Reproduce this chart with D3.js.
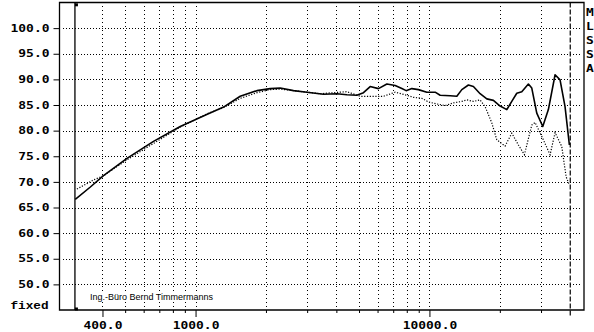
<!DOCTYPE html>
<html>
  <head>
    <meta charset="utf-8">
    <script src="https://d3js.org/d3.v7.min.js"></script>
    <style>
      body { margin: 0; background: #fff; }
      svg { display: block; }
      .domain { display: none; }
      .tick line { stroke: #000; stroke-width: 1; }
      .tick text, .side {
        font-family: 'DejaVu Sans Mono', monospace;
        font-weight: bold;
        font-size: 10px;
        fill: #000;
      }
    </style>
  </head>
  <body>
    <svg id="chart" width="594" height="332"></svg>
    <script>
      // measured response (solid) and reference response (dotted), Hz / dB
      const solidFreq = [306, 355, 404, 509, 661, 860, 1122, 1318, 1552, 1830, 2085, 2301, 2623, 2993, 3524, 4021, 4436, 4894, 5224, 5580, 6053, 6577, 7135, 7621, 7951, 8411, 8974, 9748, 10578, 11110, 12260, 13097, 13756, 14678, 15418, 16468, 17592, 18770, 20054, 21420, 22496, 23630, 24820, 26490, 27390, 28770, 30520, 32250, 34450, 36180, 38000, 39660];
      const solidLevel = [66.6, 69.0, 71.2, 74.6, 77.9, 80.8, 83.2, 84.6, 86.7, 87.8, 88.2, 88.3, 87.8, 87.5, 87.1, 87.2, 87.0, 86.9, 87.4, 88.6, 88.2, 89.1, 88.8, 88.2, 87.8, 88.2, 88.0, 87.5, 87.5, 86.9, 86.8, 86.7, 88.0, 88.9, 88.6, 87.2, 86.2, 85.9, 84.8, 84.1, 85.7, 87.3, 87.6, 89.1, 88.3, 83.4, 80.8, 84.1, 90.9, 89.9, 84.7, 77.2];
      const dottedFreq = [311, 367, 404, 509, 661, 860, 1122, 1318, 1552, 1830, 2085, 2301, 2623, 2993, 3411, 3878, 4436, 5055, 5580, 6360, 7135, 8006, 8544, 9280, 9901, 10755, 11674, 12662, 13756, 14447, 15418, 16468, 17298, 18480, 19410, 21060, 22496, 24010, 25470, 27390, 28290, 30700, 32800, 34450, 36800, 38400, 39660];
      const dottedLevel = [68.6, 70.4, 71.2, 74.3, 77.5, 80.7, 83.3, 84.5, 86.3, 87.4, 88.0, 88.1, 87.8, 87.5, 87.2, 87.4, 87.6, 86.7, 86.7, 86.7, 87.5, 86.9, 86.5, 86.3, 85.6, 85.2, 84.9, 85.4, 85.7, 86.0, 85.7, 86.0, 84.7, 81.5, 78.2, 77.0, 79.5, 77.2, 75.3, 81.1, 81.6, 78.2, 75.3, 79.6, 76.9, 71.0, 69.4];

      const yTicks = [50, 55, 60, 65, 70, 75, 80, 85, 90, 95, 100];
      const xMajorTicks = [400, 1000, 10000];
      const xMinorTicks = [500, 600, 700, 800, 900, 2000, 3000, 4000, 5000, 6000, 7000, 8000, 9000, 20000, 30000];
      const gridFreqs = [400, 500, 600, 700, 800, 900, 1000, 2000, 3000, 4000, 5000, 6000, 7000, 8000, 9000, 10000, 20000, 30000];
      const lowMarker = 305;
      const highMarker = 40000;
      const bottomLabel = 'fixed';
      const sideLabels = ['M', 'L', 'S', 'S', 'A'];
      const credit = 'Ing.-Büro Bernd Timmermanns';

      (() => {
        const svg = d3.select('#chart');
        const left = 59.5, right = 584, plotTop = 2.5, bottom = 310;

        const x = d3.scaleLog().domain([262, 45800]).range([left, right]);
        const y = d3.scaleLinear().domain([45, 105]).range([bottom, plotTop]);

        // dotted grid
        svg.append('g').selectAll('line').data(yTicks).enter().append('line')
          .attr('x1', 63).attr('x2', 581)
          .attr('y1', d => Math.round(y(d)) + 0.5).attr('y2', d => Math.round(y(d)) + 0.5)
          .attr('stroke', '#000').attr('stroke-dasharray', '1,2');
        svg.append('g').selectAll('line').data(gridFreqs).enter().append('line')
          .attr('x1', d => Math.round(x(d)) + 0.5).attr('x2', d => Math.round(x(d)) + 0.5)
          .attr('y1', 6).attr('y2', 308)
          .attr('stroke', '#000').attr('stroke-dasharray', '1,3');

        // axes
        const yAxis = d3.axisLeft(y).tickValues(yTicks).tickSize(6).tickPadding(4).tickFormat(d3.format('.1f'));
        svg.append('g').attr('transform', `translate(${left},0)`).call(yAxis)
          .selectAll('text').attr('textLength', function() { return this.textContent.length * 7.8; })
          .attr('lengthAdjust', 'spacingAndGlyphs');

        const xMajor = d3.axisBottom(x).tickValues(xMajorTicks).tickSize(7).tickPadding(5).tickFormat(d3.format('.1f'));
        svg.append('g').attr('transform', `translate(0,${bottom})`).call(xMajor)
          .selectAll('text').attr('textLength', function() { return this.textContent.length * 7.8; })
          .attr('lengthAdjust', 'spacingAndGlyphs');
        const xMinor = d3.axisBottom(x).tickValues(xMinorTicks).tickSize(3).tickFormat('');
        svg.append('g').attr('transform', `translate(0,${bottom})`).call(xMinor);

        svg.append('text')
          .attr('x', 48.5).attr('y', 309)
          .attr('text-anchor', 'end')
          .attr('textLength', 38).attr('lengthAdjust', 'spacingAndGlyphs')
          .style('font-family', "'Liberation Mono', monospace")
          .style('font-weight', 'bold').style('font-size', '11px')
          .text(bottomLabel);

        // credit line sits on a white box over the grid
        svg.append('rect').attr('x', 88).attr('y', 291).attr('width', 122).attr('height', 11).attr('fill', '#fff');
        svg.append('text')
          .attr('x', 90).attr('y', 299.5)
          .style('font-family', "'Liberation Sans', Arial, sans-serif")
          .style('font-size', '9px')
          .text(credit);

        // frame
        svg.append('path')
          .attr('d', `M${left},${plotTop}H${right}V${bottom}H${left}Z`)
          .attr('fill', 'none').attr('stroke', '#000').attr('stroke-width', 1.3);

        // range markers
        const xl = x(lowMarker);
        svg.append('line').attr('x1', xl).attr('x2', xl).attr('y1', plotTop).attr('y2', bottom)
          .attr('stroke', '#000').attr('stroke-width', 1.3);
        svg.append('rect').attr('x', xl).attr('y', 3.3).attr('width', 3).attr('height', 3).attr('fill', '#000');
        svg.append('rect').attr('x', xl).attr('y', 307.5).attr('width', 3).attr('height', 3).attr('fill', '#000');
        const xh = x(highMarker);
        svg.append('line').attr('x1', xh).attr('x2', xh).attr('y1', plotTop).attr('y2', 316)
          .attr('stroke', '#000').attr('stroke-width', 1.2).attr('stroke-dasharray', '5,2');

        // curves
        const line = d3.line().x(d => x(d[0])).y(d => y(d[1]));
        svg.append('path')
          .datum(d3.zip(dottedFreq, dottedLevel))
          .attr('d', line)
          .attr('fill', 'none').attr('stroke', '#000').attr('stroke-width', 1.2)
          .attr('stroke-dasharray', '1.2,1.6');
        svg.append('path')
          .datum(d3.zip(solidFreq, solidLevel))
          .attr('d', line)
          .attr('fill', 'none').attr('stroke', '#000').attr('stroke-width', 1.6)
          .attr('stroke-linejoin', 'round');

        svg.selectAll('.side').data(sideLabels).enter().append('text')
          .attr('class', 'side')
          .attr('x', 586)
          .attr('y', (d, i) => 15.5 + i * 14.2)
          .attr('textLength', 7.8).attr('lengthAdjust', 'spacingAndGlyphs')
          .text(d => d);
      })();
    </script>
  </body>
</html>
